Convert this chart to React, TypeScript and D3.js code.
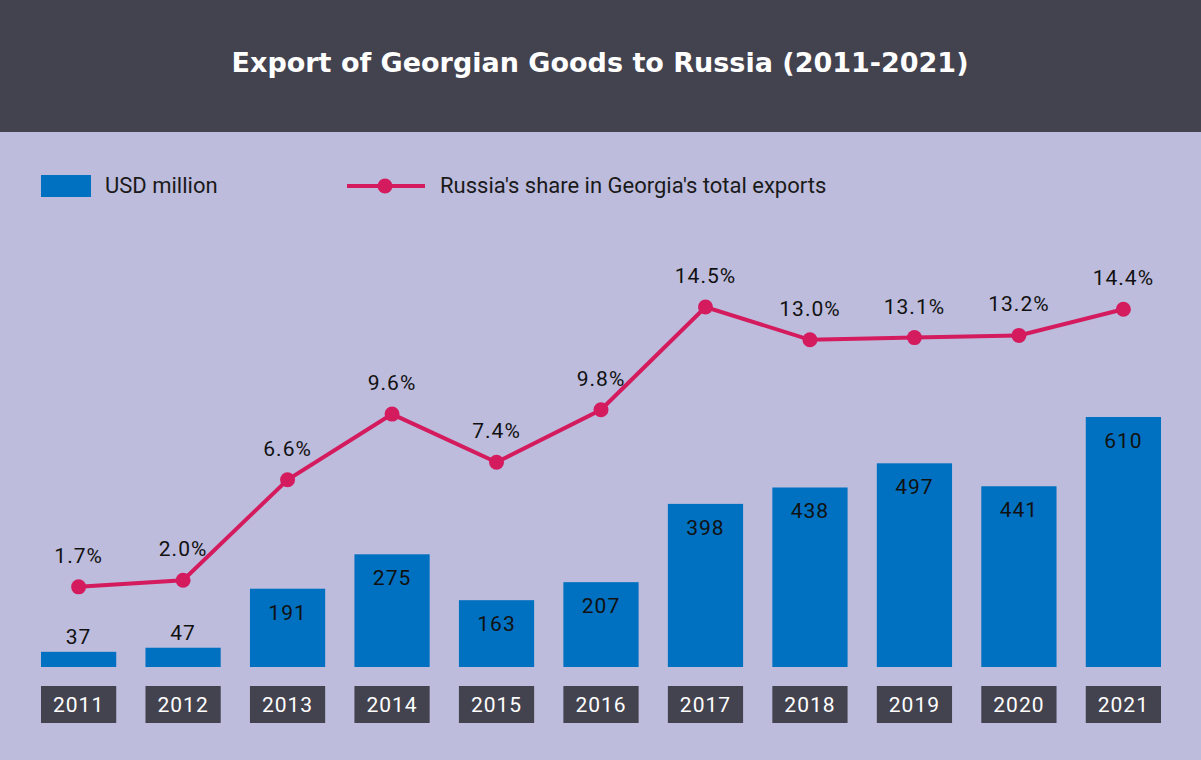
import { useEffect, useRef } from 'react';
import * as d3 from 'd3';

const years = ['2011', '2012', '2013', '2014', '2015', '2016', '2017', '2018', '2019', '2020', '2021'];
const exportsUsd = [37, 47, 191, 275, 163, 207, 398, 438, 497, 441, 610];
const sharePct = [1.7, 2.0, 6.6, 9.6, 7.4, 9.8, 14.5, 13.0, 13.1, 13.2, 14.4];

const App = () => {
  const ref = useRef<SVGSVGElement>(null);

  useEffect(() => {
    const width = 1201;
    const height = 760;
    const svg = d3.select(ref.current);
    svg.selectAll('*').remove();

    svg.append('rect').attr('width', width).attr('height', height).attr('fill', '#bdbcdd');
    svg.append('rect').attr('width', width).attr('height', 132).attr('fill', '#43424f');
    svg.append('text')
      .attr('x', 600).attr('y', 72).attr('text-anchor', 'middle')
      .attr('font-family', 'DejaVu Sans').attr('font-weight', 'bold').attr('font-size', 27)
      .attr('fill', '#fff').text('Export of Georgian Goods to Russia (2011-2021)');

    // legend
    svg.append('rect').attr('x', 41).attr('y', 175).attr('width', 50).attr('height', 22).attr('fill', '#0070c0');
    svg.append('text').attr('x', 105).attr('y', 193).attr('font-family', 'Roboto').attr('font-size', 22)
      .attr('fill', '#1a1a1a').text('USD million');
    svg.append('line').attr('x1', 347).attr('x2', 425).attr('y1', 186).attr('y2', 186)
      .attr('stroke', '#d41b5e').attr('stroke-width', 4);
    svg.append('circle').attr('cx', 385).attr('cy', 186).attr('r', 7.5).attr('fill', '#d41b5e');
    svg.append('text').attr('x', 440).attr('y', 193).attr('font-family', 'Roboto').attr('font-size', 22)
      .attr('fill', '#1a1a1a').text("Russia's share in Georgia's total exports");

    const x = d3.scaleBand().domain(years).range([41, 1161]).paddingInner(0.28).paddingOuter(0);
    const yBar = d3.scaleLinear().domain([0, 610]).range([667, 417]);
    const yLine = d3.scaleLinear().domain([0, 14.5]).range([624, 307]);
    const cx = (d: string) => (x(d) as number) + x.bandwidth() / 2;

    const font = 'Roboto';

    // bars
    const bars = svg.append('g');
    bars.selectAll('rect').data(years).join('rect')
      .attr('x', (d) => x(d) as number)
      .attr('y', (_, i) => yBar(exportsUsd[i]))
      .attr('width', x.bandwidth())
      .attr('height', (_, i) => 667 - yBar(exportsUsd[i]))
      .attr('fill', '#0070c0');
    bars.selectAll('text').data(years).join('text')
      .attr('x', cx)
      .attr('y', (_, i) => exportsUsd[i] < 100 ? yBar(exportsUsd[i]) - 8 : yBar(exportsUsd[i]) + 31)
      .attr('text-anchor', 'middle').attr('font-family', font).attr('font-size', 21)
      .attr('letter-spacing', 1).attr('fill', '#111')
      .text((_, i) => exportsUsd[i]);

    // year labels
    const yr = svg.append('g');
    yr.selectAll('rect').data(years).join('rect')
      .attr('x', (d) => x(d) as number).attr('y', 686)
      .attr('width', x.bandwidth()).attr('height', 37).attr('fill', '#43424f');
    yr.selectAll('text').data(years).join('text')
      .attr('x', cx).attr('y', 712).attr('text-anchor', 'middle')
      .attr('font-family', font).attr('font-size', 21).attr('letter-spacing', 1).attr('fill', '#fff')
      .text((d) => d);

    // line
    const line = d3.line<number>().x((_, i) => cx(years[i])).y((d) => yLine(d));
    svg.append('path').datum(sharePct).attr('d', line).attr('fill', 'none')
      .attr('stroke', '#d41b5e').attr('stroke-width', 4);
    svg.append('g').selectAll('circle').data(sharePct).join('circle')
      .attr('cx', (_, i) => cx(years[i])).attr('cy', (d) => yLine(d)).attr('r', 7.5).attr('fill', '#d41b5e');
    svg.append('g').selectAll('text').data(sharePct).join('text')
      .attr('x', (_, i) => cx(years[i])).attr('y', (d) => yLine(d) - 24)
      .attr('text-anchor', 'middle').attr('font-family', font).attr('font-size', 21)
      .attr('letter-spacing', 1).attr('fill', '#111')
      .text((d) => d.toFixed(1) + '%');
  }, []);

  return (
    <svg ref={ref} width={1201} height={760}
      style={{ position: 'absolute', left: 0, top: 0, display: 'block' }} />
  );
};

export default App;
